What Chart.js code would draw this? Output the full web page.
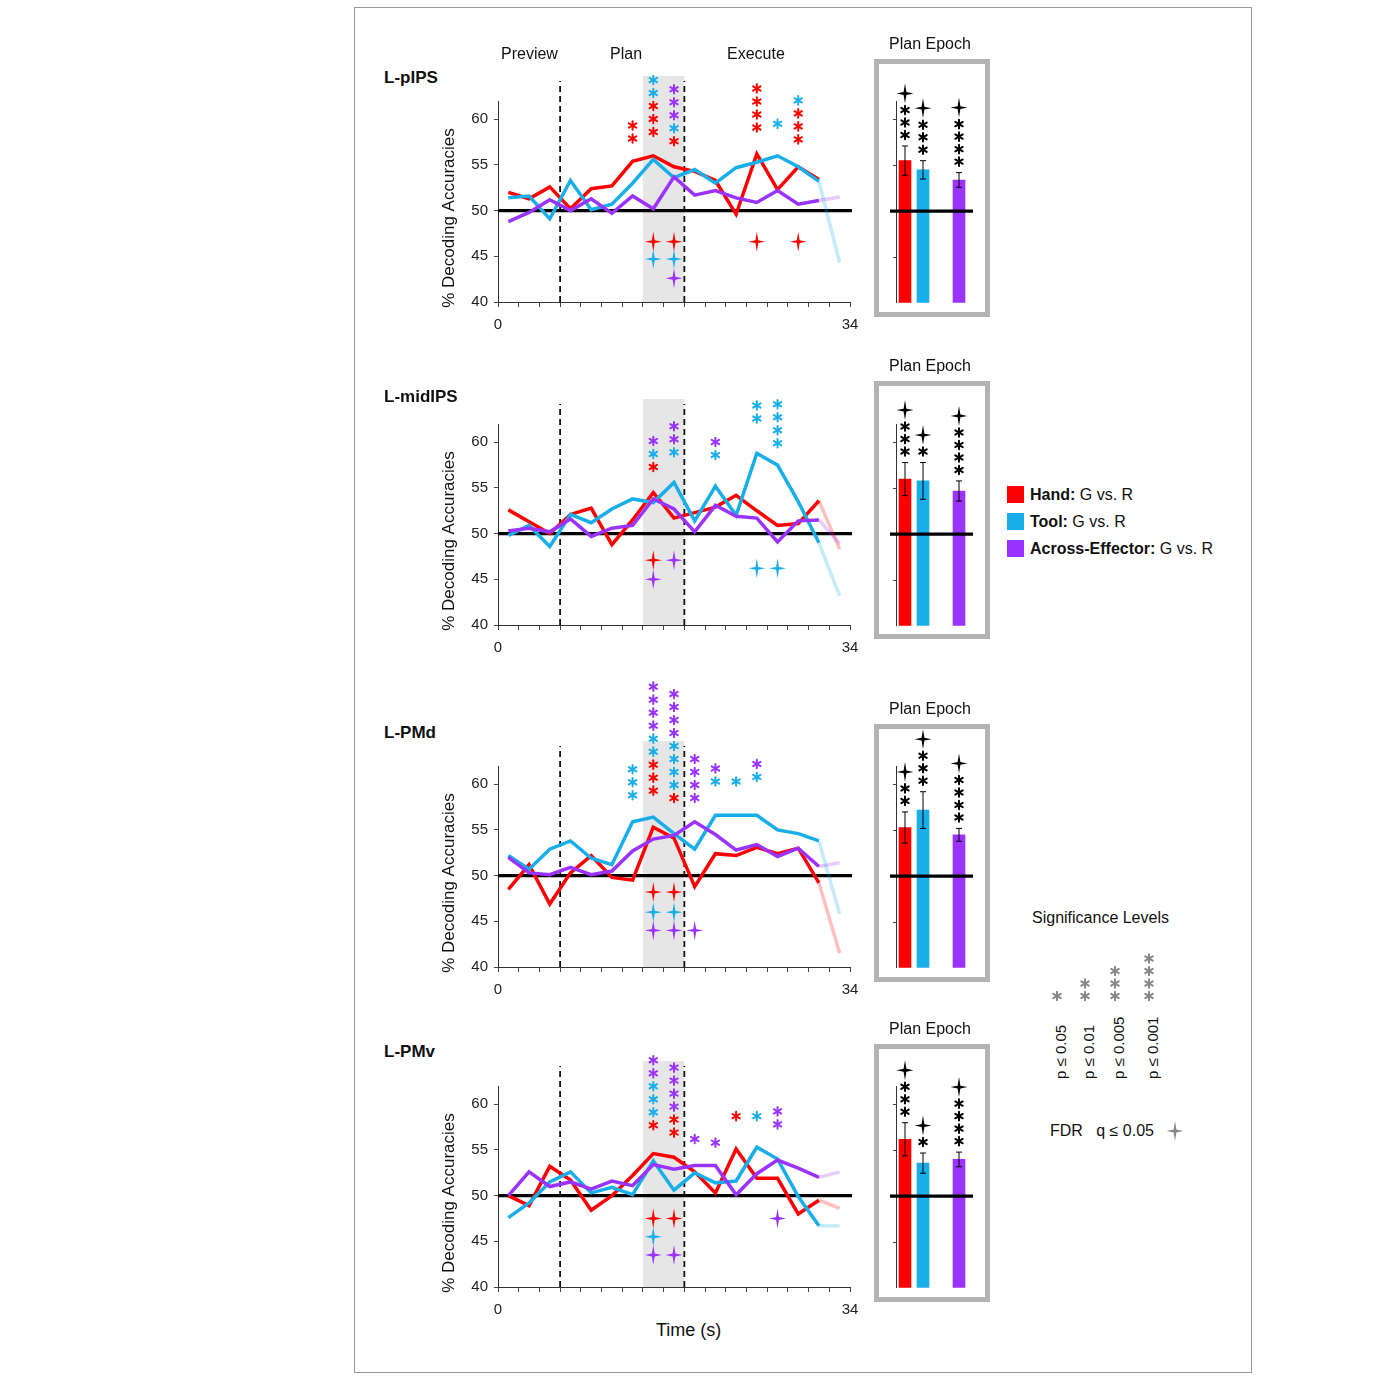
<!doctype html>
<html lang="en">
<head>
<meta charset="UTF-8" />
<title>Decoding accuracies</title>
<script src="https://cdn.jsdelivr.net/npm/chart.js"></script>
<style>
    body { margin: 0; background: #fff; font-family: "Liberation Sans", Arial, sans-serif; color: #111; }
    #frame { position: absolute; left: 354px; top: 7px; width: 896px; height: 1364px; border: 1px solid #999; }
    canvas, .lbl, .box { position: absolute; }
    .lbl { white-space: nowrap; font-size: 16px; }
    .box { border: 5px solid #b3b3b3; width: 106px; height: 248px; }
    .sq { display: inline-block; width: 17px; height: 17px; vertical-align: -3px; margin-right: 6px; }
</style>
</head>
<body>
<div id="frame"></div>
<div id="root"></div>
<script>
    // time points (s)
    const timePts = [1, 3, 5, 7, 9, 11, 13, 15, 17, 19, 21, 23, 25, 27, 29, 31, 33];
    const regions = ["L-pIPS", "L-midIPS", "L-PMd", "L-PMv"];

    const hand_pIPS = [52.0, 51.3, 52.6, 50.2, 52.4, 52.7, 55.4, 56.0, 54.8, 54.3, 53.3, 49.6, 56.2, 52.3, 54.8, 53.4, null];
    const tool_pIPS = [51.4, 51.6, 49.1, 53.3, 50.1, 50.7, 53.0, 55.6, 53.6, 54.5, 53.0, 54.7, 55.3, 56.0, 54.8, 53.2, 44.3];
    const across_pIPS = [48.8, 49.8, 51.2, 50.0, 51.3, 49.7, 51.6, 50.2, 53.7, 51.7, 52.2, 51.4, 50.9, 52.2, 50.7, 51.1, 51.5];

    const hand_midIPS = [52.6, 51.3, 50.0, 52.1, 52.8, 48.8, 51.5, 54.5, 51.7, 52.3, 52.9, 54.2, 52.5, 50.9, 51.1, 53.6, 48.3];
    const tool_midIPS = [49.8, 50.9, 48.6, 52.1, 51.2, 52.7, 53.8, 53.4, 55.6, 51.4, 55.2, 52.0, 58.8, 57.5, 53.5, 49.0, 43.2];
    const across_midIPS = [50.3, 50.6, 50.2, 51.6, 49.7, 50.6, 50.9, 53.8, 52.7, 50.2, 53.1, 51.9, 51.7, 49.1, 51.4, 51.5, 48.9];

    const hand_PMd = [48.5, 51.2, 46.9, 50.3, 52.2, 49.8, 49.5, 55.3, 54.1, 48.8, 52.4, 52.2, 53.1, 52.4, 53.0, 49.2, 41.5];
    const tool_PMd = [52.2, 50.7, 52.9, 53.8, 51.9, 51.2, 55.9, 56.4, 54.6, 52.9, 56.6, 56.6, 56.6, 55.0, 54.6, 53.8, 45.8];
    const across_PMd = [52.0, 50.3, 50.1, 50.9, 50.1, 50.5, 52.7, 54.0, 54.4, 55.9, 54.5, 52.8, 53.4, 52.1, 53.0, 51.0, 51.4];

    const hand_PMv = [50.0, 48.9, 53.2, 51.7, 48.4, 50.0, 52.2, 54.6, 54.2, 52.6, 50.3, 55.1, 51.9, 51.9, 48.0, 49.5, 48.6];
    const tool_PMv = [47.6, 49.2, 51.5, 52.6, 50.3, 50.9, 50.1, 53.8, 50.6, 52.5, 51.4, 51.6, 55.3, 54.0, 49.9, 46.7, 46.7];
    const across_PMv = [50.0, 52.6, 51.0, 51.5, 50.7, 51.6, 51.1, 53.4, 52.9, 53.3, 53.3, 50.1, 52.4, 53.9, 53.0, 52.0, 52.6];

    // significance asterisks: [time, accuracy of lowest star, colours bottom-up]
    const stars_pIPS = [[13, 57.9, "rr"], [15, 58.6, "rrrbb"], [17, 57.6, "rbppp"], [25, 59.1, "rrrr"], [27, 59.5, "b"], [29, 57.8, "rrrb"]];
    const stars_midIPS = [[15, 57.3, "rbp"], [17, 58.9, "bpp"], [21, 58.6, "bp"], [25, 62.6, "bb"], [27, 59.9, "bbbb"]];
    const stars_PMd = [[13, 58.8, "bbb"], [15, 59.3, "rrrbbpppp"], [17, 58.5, "rbbbbpppp"], [19, 58.5, "pppp"], [21, 60.3, "bp"], [23, 60.3, "b"], [25, 60.8, "bp"]];
    const stars_PMv = [[15, 57.7, "rbbbpp"], [17, 56.9, "rrpppp"], [19, 56.2, "p"], [21, 55.8, "p"], [23, 58.7, "r"], [25, 58.7, "b"], [27, 57.8, "pp"]];

    // FDR crosses: [time, accuracy, colour]
    const fdr_pIPS = [[15, 46.6, "r"], [15, 44.7, "b"], [17, 46.6, "r"], [17, 44.7, "b"], [17, 42.6, "p"], [25, 46.6, "r"], [29, 46.6, "r"]];
    const fdr_midIPS = [[15, 47.1, "r"], [15, 45.0, "p"], [17, 47.1, "p"], [25, 46.2, "b"], [27, 46.2, "b"]];
    const fdr_PMd = [[15, 48.2, "r"], [15, 46.0, "b"], [15, 44.0, "p"], [17, 48.2, "r"], [17, 46.0, "b"], [17, 44.0, "p"], [19, 44.0, "p"]];
    const fdr_PMv = [[15, 47.5, "r"], [15, 45.5, "b"], [15, 43.5, "p"], [17, 47.5, "r"], [17, 43.5, "p"], [27, 47.5, "p"]];

    // plan epoch bars: hand, tool, across
    const barCats = ["Hand", "Tool", "", "Across"];
    const planMean = [[55.5, 54.5, 53.4], [56.0, 55.8, 54.7], [55.3, 57.2, 54.5], [56.2, 53.6, 54.0]];
    const planErr = [[1.6, 1.0, 0.8], [1.8, 2.0, 1.1], [1.7, 2.0, 0.7], [1.8, 1.1, 0.8]];
    const planStars = [[3, 3, 4], [3, 1, 4], [2, 3, 4], [3, 1, 4]];

    const yTicks = [40, 45, 50, 55, 60];
    const col = { r: "#ff0000", b: "#18aeea", p: "#9a33ff" };
    const fade = { r: "rgba(255,0,0,0.25)", b: "rgba(24,174,234,0.25)", p: "rgba(154,51,255,0.25)" };

    const series = [
        [hand_pIPS, tool_pIPS, across_pIPS],
        [hand_midIPS, tool_midIPS, across_midIPS],
        [hand_PMd, tool_PMd, across_PMd],
        [hand_PMv, tool_PMv, across_PMv]
    ];
    const starSets = [stars_pIPS, stars_midIPS, stars_PMd, stars_PMv];
    const fdrSets = [fdr_pIPS, fdr_midIPS, fdr_PMd, fdr_PMv];
    const panelY62 = [101, 424, 766, 1086];   // pixel of 62% in each row
    const boxTop = [59, 381, 724, 1044];
    const regionTop = [68, 387, 723, 1042];
    const PAD_TOP = 100;
    const PLOT_H = 201;

    const root = document.getElementById("root");

    function label(text, x, y, css) {
        let d = document.createElement("div");
        d.className = "lbl";
        d.innerHTML = text;
        d.style.left = x + "px";
        d.style.top = y + "px";
        if (css) d.style.cssText += css;
        root.appendChild(d);
        return d;
    }

    function drawAsterisk(c, x, y, color, r) {
        c.save();
        c.strokeStyle = color;
        c.lineWidth = 2;
        c.lineCap = "round";
        for (let k = 0; k < 3; k++) {
            let a = Math.PI / 2 + k * Math.PI / 3;
            c.beginPath();
            c.moveTo(x - r * Math.cos(a), y - r * Math.sin(a));
            c.lineTo(x + r * Math.cos(a), y + r * Math.sin(a));
            c.stroke();
        }
        c.restore();
    }

    function drawCross(c, x, y, color, s) {
        c.save();
        c.fillStyle = color;
        c.beginPath();
        c.moveTo(x, y - s);
        c.lineTo(x + s * 0.14, y - s * 0.14);
        c.lineTo(x + s * 0.85, y);
        c.lineTo(x + s * 0.14, y + s * 0.14);
        c.lineTo(x, y + s);
        c.lineTo(x - s * 0.14, y + s * 0.14);
        c.lineTo(x - s * 0.85, y);
        c.lineTo(x - s * 0.14, y - s * 0.14);
        c.closePath();
        c.fill();
        c.restore();
    }

    function makeCanvas(x, y, w, h) {
        let cv = document.createElement("canvas");
        cv.width = w; cv.height = h;
        cv.style.left = x + "px"; cv.style.top = y + "px";
        cv.style.width = w + "px"; cv.style.height = h + "px";
        root.appendChild(cv);
        return cv;
    }

    function lineChart(i) {
        let cv = makeCanvas(440, panelY62[i] - PAD_TOP, 440, PAD_TOP + PLOT_H + 32);
        let keys = ["r", "b", "p"];
        let datasets = keys.map((k, j) => ({
            data: series[i][j].map((v, n) => ({ x: timePts[n], y: v })),
            borderColor: col[k],
            borderWidth: 3.5,
            pointRadius: 0,
            fill: false,
            tension: 0,
            order: 3 - j,
            segment: { borderColor: ctx => ctx.p1DataIndex === timePts.length - 1 ? fade[k] : col[k] }
        }));

        let overlay = {
            id: "overlay",
            beforeDatasetsDraw(chart) {
                let c = chart.ctx, xs = chart.scales.x, ys = chart.scales.y, a = chart.chartArea;
                c.save();
                c.fillStyle = "#e6e6e6";
                c.fillRect(xs.getPixelForValue(14), a.top - 25, xs.getPixelForValue(18) - xs.getPixelForValue(14), a.bottom - a.top + 25);
                c.strokeStyle = "#111";
                c.lineWidth = 1.8;
                c.setLineDash([6, 4]);
                [6, 18].forEach(t => {
                    let px = xs.getPixelForValue(t);
                    c.beginPath(); c.moveTo(px, a.bottom); c.lineTo(px, a.top - 20); c.stroke();
                });
                c.setLineDash([]);
                c.lineWidth = 3.2;
                c.strokeStyle = "#000";
                let y50 = ys.getPixelForValue(50);
                c.beginPath(); c.moveTo(a.left, y50); c.lineTo(a.right + 2, y50); c.stroke();
                // axis title, centred a little below the middle as in the figure
                c.translate(a.left - 49, a.bottom - 84);
                c.rotate(-Math.PI / 2);
                c.fillStyle = "#111";
                c.font = "17px 'Liberation Sans'";
                c.textAlign = "center";
                c.textBaseline = "middle";
                c.fillText("% Decoding Accuracies", 0, 0);
                c.restore();
            },
            afterDatasetsDraw(chart) {
                let c = chart.ctx, xs = chart.scales.x, ys = chart.scales.y;
                starSets[i].forEach(s => {
                    let px = xs.getPixelForValue(s[0]), py = ys.getPixelForValue(s[1]);
                    [...s[2]].forEach((k, n) => drawAsterisk(c, px, py - n * 13, col[k], 4.3));
                });
                fdrSets[i].forEach(s => {
                    drawCross(c, xs.getPixelForValue(s[0]), ys.getPixelForValue(s[1]), col[s[2]], 10);
                });
            }
        };

        new Chart(cv, {
            type: "line",
            data: { datasets: datasets },
            plugins: [overlay],
            options: {
                responsive: false,
                animation: false,
                layout: { padding: { top: PAD_TOP, right: 30, left: 0, bottom: 0 } },
                plugins: { legend: { display: false }, tooltip: { enabled: false } },
                scales: {
                    x: {
                        type: "linear", min: 0, max: 34,
                        afterBuildTicks: s => { s.ticks = timePts.map(t => ({ value: t - 1 })).concat([{ value: 34 }]); },
                        ticks: { autoSkip: false, maxRotation: 0, padding: 9, color: "#222", font: { size: 15, family: "Liberation Sans" },
                                 callback: v => (v === 0 || v === 34) ? v : "" },
                        grid: { drawOnChartArea: false, tickLength: 5, color: "#444" },
                        border: { color: "#333", width: 1 },
                        afterFit: s => { s.height = 32; }
                    },
                    y: {
                        min: 40, max: 62,
                        afterBuildTicks: s => { s.ticks = yTicks.map(v => ({ value: v })); },
                        ticks: { color: "#222", padding: 6, font: { size: 15, family: "Liberation Sans" } },
                        grid: { drawOnChartArea: false, tickLength: 4, color: "#444" },
                        border: { color: "#333", width: 1 },
                        afterFit: s => { s.width = 58; }
                    }
                }
            }
        });
    }

    function barChart(i) {
        let cv = makeCanvas(880, panelY62[i] - PAD_TOP, 100, PAD_TOP + PLOT_H + 1);
        let vals = [planMean[i][0], planMean[i][1], null, planMean[i][2]];
        let errs = [planErr[i][0], planErr[i][1], 0, planErr[i][2]];
        let cnt = [planStars[i][0], planStars[i][1], 0, planStars[i][2]];
        let overlay = {
            id: "barOverlay",
            afterDatasetsDraw(chart) {
                let c = chart.ctx, ys = chart.scales.y, a = chart.chartArea;
                let meta = chart.getDatasetMeta(0);
                c.save();
                c.strokeStyle = "#000";
                c.lineWidth = 3.2;
                let y50 = ys.getPixelForValue(50);
                c.beginPath(); c.moveTo(a.left - 6, y50); c.lineTo(a.right + 5, y50); c.stroke();
                c.lineWidth = 1;
                meta.data.forEach((bar, n) => {
                    if (vals[n] === null) return;
                    let hi = ys.getPixelForValue(vals[n] + errs[n]), lo = ys.getPixelForValue(vals[n] - errs[n]);
                    c.beginPath();
                    c.moveTo(bar.x, hi); c.lineTo(bar.x, lo);
                    c.moveTo(bar.x - 3, hi); c.lineTo(bar.x + 3, hi);
                    c.moveTo(bar.x - 3, lo); c.lineTo(bar.x + 3, lo);
                    c.stroke();
                    let yy = hi - 11;
                    for (let k = 0; k < cnt[n]; k++) { drawAsterisk(c, bar.x, yy, "#000", 4.3); yy -= 12.5; }
                    drawCross(c, bar.x, yy - 4, "#000", 10);
                });
                c.restore();
            }
        };
        new Chart(cv, {
            type: "bar",
            data: { labels: barCats, datasets: [{ data: vals, backgroundColor: [col.r, col.b, "#fff", col.p], barThickness: 12, base: 40 }] },
            plugins: [overlay],
            options: {
                responsive: false,
                animation: false,
                layout: { padding: { top: PAD_TOP, right: 12, left: 0, bottom: 0 } },
                plugins: { legend: { display: false }, tooltip: { enabled: false } },
                scales: {
                    x: { display: false },
                    y: {
                        min: 40, max: 62,
                        afterBuildTicks: s => { s.ticks = yTicks.map(v => ({ value: v })); },
                        ticks: { display: false },
                        grid: { drawOnChartArea: false, tickLength: 3, color: "#444" },
                        border: { color: "#333", width: 1 },
                        afterFit: s => { s.width = 16; }
                    }
                }
            }
        });
    }

    for (let i = 0; i < 4; i++) {
        lineChart(i);
        barChart(i);
        label(regions[i], 384, regionTop[i], "font-weight:bold;font-size:17px;");
        let b = document.createElement("div");
        b.className = "box";
        b.style.left = "874px"; b.style.top = boxTop[i] + "px";
        root.appendChild(b);
        label("Plan Epoch", 889, boxTop[i] - 24);
    }
    label("Preview", 501, 45);
    label("Plan", 610, 45);
    label("Execute", 727, 45);
    label("Time (s)", 656, 1320, "font-size:18px;");

    label('<span class="sq" style="background:' + col.r + '"></span><b>Hand:</b> G vs. R', 1007, 486);
    label('<span class="sq" style="background:' + col.b + '"></span><b>Tool:</b> G vs. R', 1007, 513);
    label('<span class="sq" style="background:' + col.p + '"></span><b>Across-Effector:</b> G vs. R', 1007, 540);

    label("Significance Levels", 1032, 909);
    const sigLabels = ["p ≤ 0.05", "p ≤ 0.01", "p ≤ 0.005", "p ≤ 0.001"];
    const sigX = [1061, 1089, 1119, 1153];
    sigLabels.forEach((t, n) => {
        label(t, sigX[n] - 9, 1079, "font-size:15px;transform-origin:0 0;transform:rotate(-90deg);");
        let sc = makeCanvas(sigX[n] - 10, 940, 20, 62);
        let g = sc.getContext("2d");
        for (let k = 0; k <= n; k++) drawAsterisk(g, 10 - 4, 56 - k * 12.5, "#888", 4.3);
    });
    label("FDR &nbsp; q ≤ 0.05", 1050, 1122);
    let fc = makeCanvas(1164, 1119, 22, 24);
    drawCross(fc.getContext("2d"), 11, 12, "#888", 10);
</script>
</body>
</html>
